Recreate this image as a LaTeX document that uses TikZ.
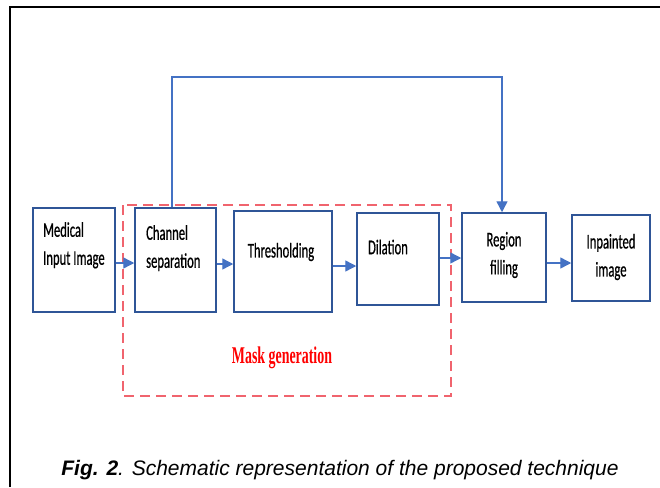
\documentclass[tikz,border=0pt]{standalone}
\usepackage{fontspec}
\setmainfont{Liberation Sans}
\newfontfamily\boxfont[FakeStretch=0.6, FakeBold=0.6]{Carlito}
\newfontfamily\maskfont[FakeStretch=0.58]{Liberation Serif}
\usetikzlibrary{arrows.meta}

\definecolor{boxblue}{RGB}{47,85,151}
\definecolor{flowblue}{RGB}{68,114,196}
\definecolor{maskred}{RGB}{240,100,110}

\begin{document}
\begin{tikzpicture}[x=1pt, y=-1pt,
		block/.style={draw=boxblue, line width=1.5pt, minimum width=#1, inner sep=0pt},
		txt/.style={font=\boxfont\fontsize{21}{28}\selectfont, inner sep=0pt},
		flow/.style={draw=flowblue, line width=1.4pt, -{Triangle[length=11pt, width=11pt]}}]
		\useasboundingbox (0,0) rectangle (660,487);

		% frame
		\draw[line width=1.6pt] (10,487) -- (10,7) -- (660,7);

		% blocks
		\node[block=82pt, minimum height=104pt] (med) at (74,260) {};
		\node[block=81pt, minimum height=104pt] (chan) at (175.5,260) {};
		\node[block=98pt, minimum height=101pt] (thr) at (283,261.5) {};
		\node[block=82pt, minimum height=92pt] (dil) at (398,259) {};
		\node[block=84pt, minimum height=89pt] (reg) at (504,257.5) {};
		\node[block=78pt, minimum height=86pt] (inp) at (611,258) {};

		% texts in the blocks
		\node[txt, align=left, anchor=north west] (medT) at (43,222) {Medical\\Input Image};
		\node[txt, align=left, anchor=north west] (chanT) at (146,225) {Channel\\separation};
		\node[txt] (thrT) at (281,252) {Thresholding};
		\node[txt] (dilT) at (388,247) {Dilation};
		\node[txt, align=center] (regT) at (504,255) {Region\\filling};
		\node[txt, align=center] (inpT) at (611,257) {Inpainted\\image};

		% mask generation
		\draw[draw=maskred, line width=1.5pt, dash pattern=on 10pt off 6pt] (123,205) rectangle (451,396);
		\node[text=red, inner sep=0pt, font=\maskfont\bfseries\fontsize{24}{28}\selectfont] (maskT) at (282,358) {Mask generation};

		% arrows
		\draw[flow] (med.east |- 0,263) -- (chan.west |- 0,263);
		\draw[flow] (chan.east |- 0,264) -- (thr.west |- 0,264);
		\draw[flow] (thr.east |- 0,266) -- (dil.west |- 0,266);
		\draw[flow] (dil.east |- 0,258) -- (reg.west |- 0,258);
		\draw[flow] (reg.east |- 0,263) -- (inp.west |- 0,263);

		\coordinate (fbtop) at (0,77);
		\draw[flow] ([xshift=-3.5pt]chan.north) -- ([xshift=-3.5pt]chan.north |- fbtop) -| ([xshift=-2pt]reg.north);

		% caption
		\node[inner sep=0pt, font=\fontsize{21}{24}\selectfont\itshape] (cap) at (340,470) {\textbf{Fig. 2}. Schematic representation of the proposed technique};
	\end{tikzpicture}
\end{document}
